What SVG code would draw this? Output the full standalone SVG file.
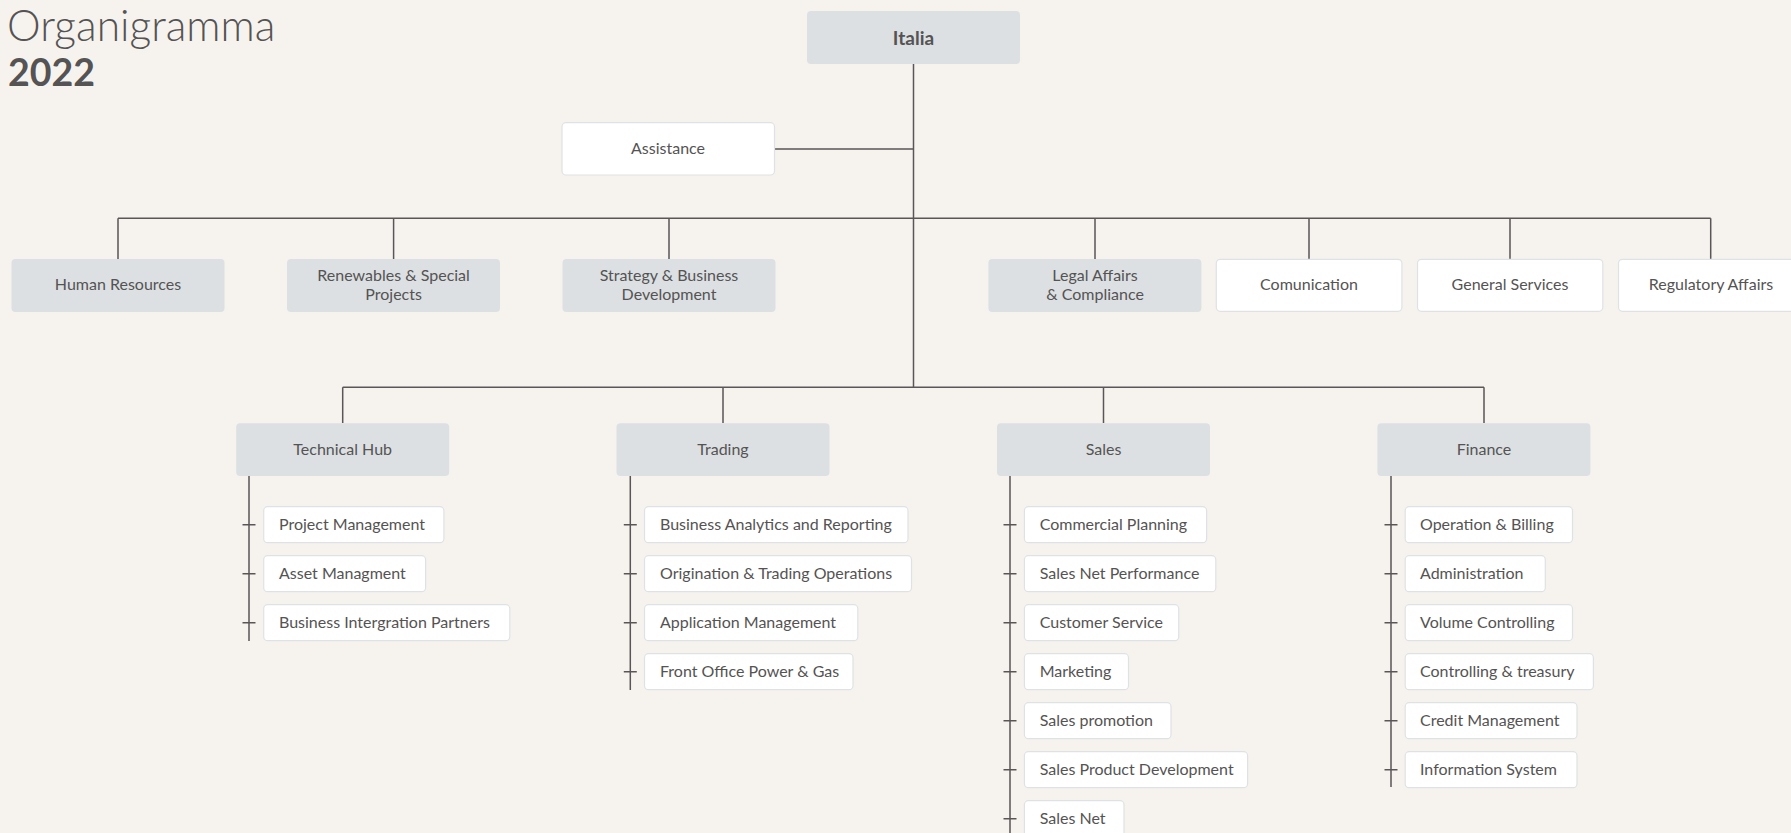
<svg xmlns="http://www.w3.org/2000/svg" width="1791" height="833" viewBox="0 0 1791 833">
<style>
text{font-family:Lato,"Open Sans","Liberation Sans",sans-serif;fill:#555353;font-size:16px}
.c{text-anchor:middle}
.g{fill:#dce0e3}
.w{fill:#ffffff;stroke:#dfe2e5;stroke-width:1.2}
.ln{stroke:#5a5657;stroke-width:1.5;fill:none}
.tt{font-size:42.5px;font-weight:300}
.yr{font-size:37.5px;font-weight:700}
.b{font-weight:700;font-size:19px}
</style>
<rect width="1791" height="833" fill="#f6f3ef"/>
<g id="title">
<text class="tt" x="7" y="41">Organigramma</text>
<text class="yr" x="8" y="86">2022</text>
</g>
<g id="connectors" class="ln">
<path d="M913.5 64V387.3M774.5 149H913.5M118 218.3H1710.7M118 218.3V259M393.6 218.3V259M669 218.3V259M1095 218.3V259M1309 218.3V259M1510 218.3V259M1710.7 218.3V259"/>
<path d="M342.7 387.3H1484M342.7 387.3V423M723 387.3V423M1103.5 387.3V423M1484 387.3V423"/>
<path d="M249 476V641M630.3 476V690M1010 476V833M1391 476V787"/>
<path d="M242.5 524.7h13M242.5 573.7h13M242.5 622.7h13"/>
<path d="M623.8 524.7h13M623.8 573.7h13M623.8 622.7h13M623.8 671.7h13"/>
<path d="M1003.5 524.7h13M1003.5 573.7h13M1003.5 622.7h13M1003.5 671.7h13M1003.5 720.7h13M1003.5 769.7h13M1003.5 818.7h13"/>
<path d="M1384.5 524.7h13M1384.5 573.7h13M1384.5 622.7h13M1384.5 671.7h13M1384.5 720.7h13M1384.5 769.7h13"/>
</g>
<g id="italia"><rect class="g" x="807" y="11" width="213" height="53" rx="4"/><text class="c b" x="913.5" y="44.5">Italia</text></g>
<g id="assistance"><rect class="w" x="562" y="122.7" width="212.5" height="52.3" rx="4"/><text class="c" x="668" y="153.5">Assistance</text></g>
<g id="human-resources"><rect class="g" x="11.5" y="259" width="213" height="53" rx="4"/><text class="c" x="118" y="289.5">Human Resources</text></g>
<g id="renewables"><rect class="g" x="287" y="259" width="213" height="53" rx="4"/><text class="c" x="393.6" y="281">Renewables &amp; Special</text><text class="c" x="393.6" y="300">Projects</text></g>
<g id="strategy"><rect class="g" x="562.5" y="259" width="213" height="53" rx="4"/><text class="c" x="669" y="281">Strategy &amp; Business</text><text class="c" x="669" y="300">Development</text></g>
<g id="legal"><rect class="g" x="988.4" y="259" width="213" height="53" rx="4"/><text class="c" x="1095" y="281">Legal Affairs</text><text class="c" x="1095" y="300">&amp; Compliance</text></g>
<g id="comunication"><rect class="w" x="1216.3" y="259.3" width="185.6" height="52" rx="4"/><text class="c" x="1309" y="289.5">Comunication</text></g>
<g id="general-services"><rect class="w" x="1417.5" y="259.3" width="185.3" height="52" rx="4"/><text class="c" x="1510" y="289.5">General Services</text></g>
<g id="regulatory"><rect class="w" x="1618.5" y="259.3" width="185.6" height="52" rx="4"/><text class="c" x="1711" y="289.5">Regulatory Affairs</text></g>
<g id="technical-hub"><rect class="g" x="236.2" y="423.3" width="213" height="52.7" rx="4"/><text class="c" x="342.7" y="455">Technical Hub</text></g>
<g id="trading"><rect class="g" x="616.5" y="423.3" width="213" height="52.7" rx="4"/><text class="c" x="723" y="455">Trading</text></g>
<g id="sales"><rect class="g" x="997" y="423.3" width="213" height="52.7" rx="4"/><text class="c" x="1103.5" y="455">Sales</text></g>
<g id="finance"><rect class="g" x="1377.4" y="423.3" width="213" height="52.7" rx="4"/><text class="c" x="1484" y="455">Finance</text></g>
<g id="th-1"><rect class="w" x="263.7" y="506.7" width="180.2" height="36" rx="4"/><text x="279" y="530">Project Management</text></g>
<g id="th-2"><rect class="w" x="263.7" y="555.7" width="161.9" height="36" rx="4"/><text x="279" y="579">Asset Managment</text></g>
<g id="th-3"><rect class="w" x="263.7" y="604.7" width="246.1" height="36" rx="4"/><text x="279" y="628">Business Intergration Partners</text></g>
<g id="tr-1"><rect class="w" x="644.5" y="506.7" width="263.5" height="36" rx="4"/><text x="660" y="530">Business Analytics and Reporting</text></g>
<g id="tr-2"><rect class="w" x="644.5" y="555.7" width="267" height="36" rx="4"/><text x="660" y="579">Origination &amp; Trading Operations</text></g>
<g id="tr-3"><rect class="w" x="644.5" y="604.7" width="213.3" height="36" rx="4"/><text x="660" y="628">Application Management</text></g>
<g id="tr-4"><rect class="w" x="644.5" y="653.7" width="208.5" height="36" rx="4"/><text x="660" y="677">Front Office Power &amp; Gas</text></g>
<g id="sa-1"><rect class="w" x="1024.4" y="506.7" width="182.2" height="36" rx="4"/><text x="1039.7" y="530">Commercial Planning</text></g>
<g id="sa-2"><rect class="w" x="1024.4" y="555.7" width="191.4" height="36" rx="4"/><text x="1039.7" y="579">Sales Net Performance</text></g>
<g id="sa-3"><rect class="w" x="1024.4" y="604.7" width="154.3" height="36" rx="4"/><text x="1039.7" y="628">Customer Service</text></g>
<g id="sa-4"><rect class="w" x="1024.4" y="653.7" width="104.1" height="36" rx="4"/><text x="1039.7" y="677">Marketing</text></g>
<g id="sa-5"><rect class="w" x="1024.4" y="702.7" width="146.6" height="36" rx="4"/><text x="1039.7" y="726">Sales promotion</text></g>
<g id="sa-6"><rect class="w" x="1024.4" y="751.7" width="223.2" height="36" rx="4"/><text x="1039.7" y="775">Sales Product Development</text></g>
<g id="sa-7"><rect class="w" x="1024.4" y="800.7" width="99.6" height="36" rx="4"/><text x="1039.7" y="824">Sales Net</text></g>
<g id="fi-1"><rect class="w" x="1405.2" y="506.7" width="167.3" height="36" rx="4"/><text x="1420" y="530">Operation &amp; Billing</text></g>
<g id="fi-2"><rect class="w" x="1405.2" y="555.7" width="140.1" height="36" rx="4"/><text x="1420" y="579">Administration</text></g>
<g id="fi-3"><rect class="w" x="1405.2" y="604.7" width="167.3" height="36" rx="4"/><text x="1420" y="628">Volume Controlling</text></g>
<g id="fi-4"><rect class="w" x="1405.2" y="653.7" width="188.2" height="36" rx="4"/><text x="1420" y="677">Controlling &amp; treasury</text></g>
<g id="fi-5"><rect class="w" x="1405.2" y="702.7" width="171.8" height="36" rx="4"/><text x="1420" y="726">Credit Management</text></g>
<g id="fi-6"><rect class="w" x="1405.2" y="751.7" width="171.8" height="36" rx="4"/><text x="1420" y="775">Information System</text></g>
</svg>
